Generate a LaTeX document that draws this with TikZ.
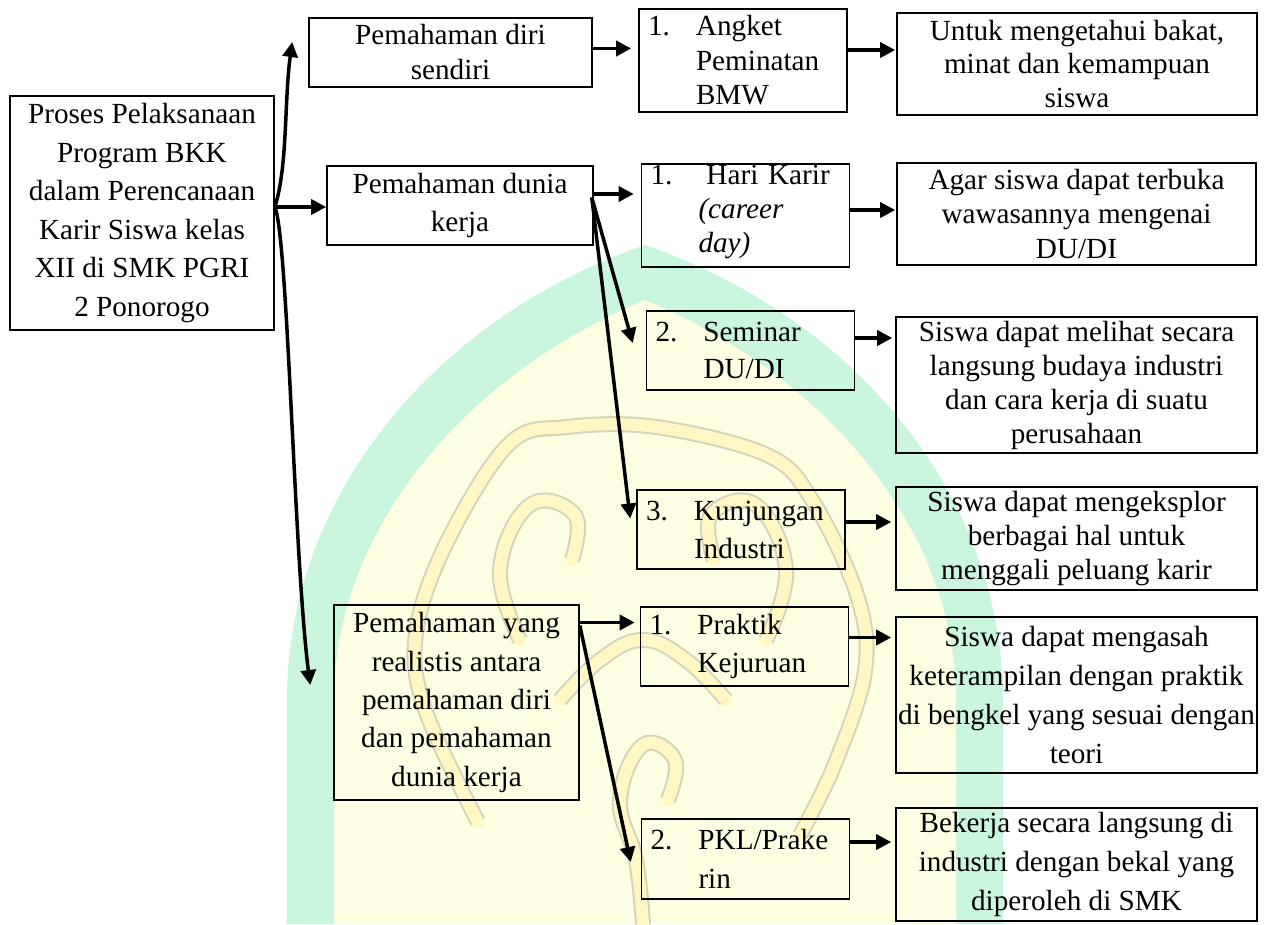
\documentclass[tikz,border=0pt]{standalone}
\usepackage{fontspec}
\setmainfont{Liberation Serif}
\usetikzlibrary{arrows.meta}
\definecolor{mint}{RGB}{202,246,222}
\definecolor{cream}{RGB}{254,254,226}
\definecolor{ornfill}{RGB}{255,247,196}
\definecolor{ornline}{RGB}{214,211,188}
\newcommand\fsz[1]{\fontsize{29.2}{#1}\selectfont}
\newcommand\itm[2]{\makebox[48pt][l]{#1}#2}
\newcommand\ind{\hspace*{48pt}}
\begin{document}
\begin{tikzpicture}[x=1pt,y=-1pt,
  box/.style={draw, line width=1.6pt, inner sep=0pt, align=center},
  lbox/.style={draw, line width=1.6pt, inner ysep=0pt, inner xsep=9pt, align=left, text width=190pt},
  arr/.style={line width=3.5pt, -{Triangle[length=15pt,width=15pt]}},
  orn/.style={preaction={draw=ornline, line width=16pt}, draw=ornfill, line width=12pt, line cap=round, line join=round},
]
\fill[white] (0,0) rectangle (1266,924);
\useasboundingbox (0,0) rectangle (1266,924);
% watermark
\fill[mint] (287,924) -- (287,700) .. controls (287,500) and (430,320) .. (645,245) .. controls (860,320) and (1003,500) .. (1003,700) -- (1003,924) -- cycle;
\fill[cream] (334,924) -- (334,700) .. controls (334,530) and (465,375) .. (645,300) .. controls (825,375) and (956,530) .. (956,700) -- (956,924) -- cycle;
\draw[orn] plot[smooth, tension=0.6] coordinates {(478,822) (425,709) (416,633) (447,542) (509,444) (567,427) (656,427) (767,455) (812,500) (857,595) (865,671) (834,766) (800,835)};
\draw[orn] plot[smooth, tension=0.7] coordinates {(520,640) (500,570) (530,505) (575,515) (572,560)};
\draw[orn] plot[smooth, tension=0.7] coordinates {(766,640) (786,570) (756,505) (711,515) (714,560)};
\draw[orn] plot[smooth, tension=0.7] coordinates {(643,924) (636,860) (620,800) (643,745) (675,760) (668,800)};
\draw[orn] plot[smooth, tension=0.7] coordinates {(560,700) (600,660) (643,640) (686,660) (726,700)};

% left column
\node[box, minimum width=264pt, minimum height=234pt, font=\fsz{38.6}] (root) at (142,213) {Proses Pelaksanaan\\Program BKK\\dalam Perencanaan\\Karir Siswa kelas\\XII di SMK PGRI\\2 Ponorogo};
\node[box, minimum width=283pt, minimum height=69pt, font=\fsz{35}] (diri) at (450.5,52.5) {Pemahaman diri\\sendiri};
\node[box, minimum width=266pt, minimum height=79pt, font=\fsz{38}] (dunia) at (460,205.5) {Pemahaman dunia\\kerja};
\node[box, minimum width=245pt, minimum height=195pt, font=\fsz{38.3}] (yang) at (456.5,702.5) {Pemahaman yang\\realistis antara\\pemahaman diri\\dan pemahaman\\dunia kerja};

% middle column
\node[lbox, minimum height=103pt, font=\fsz{34.5}] (angket) at (743,60.5) {\itm{1.}{Angket}\\\ind Peminatan\\\ind BMW};
\node[lbox, minimum height=103pt, font=\fsz{34}] (hari) at (745.5,215.5) {\itm{1.}{\hspace{8pt}Hari Karir}\\\ind\textit{(career}\\\ind\textit{day)}\rule[-14pt]{0pt}{1pt}};
\node[lbox, minimum height=79pt, font=\fsz{36.5}] (seminar) at (750.5,350.5) {\itm{2.}{Seminar}\\\ind DU/DI};
\node[lbox, minimum height=79pt, font=\fsz{38}] (kunj) at (741,529.5) {\itm{3.}{Kunjungan}\\\ind Industri};
\node[lbox, minimum height=79pt, font=\fsz{38.5}] (praktik) at (744.5,646.5) {\itm{1.}{Praktik}\\\ind Kejuruan};
\node[lbox, minimum height=80pt, font=\fsz{38.5}] (pkl) at (745.5,859) {\itm{2.}{PKL/Prake}\\\ind rin};

% right column
\node[box, minimum width=360pt, minimum height=102pt, font=\fsz{33.5}] (untuk) at (1077,64) {Untuk mengetahui bakat,\\minat dan kemampuan\\siswa};
\node[box, minimum width=359pt, minimum height=102pt, font=\fsz{34.5}] (agar) at (1076.5,214) {Agar siswa dapat terbuka\\wawasannya mengenai\\DU/DI};
\node[box, minimum width=361pt, minimum height=136pt, font=\fsz{34}] (melihat) at (1076.5,385) {Siswa dapat melihat secara\\langsung budaya industri\\dan cara kerja di suatu\\perusahaan};
\node[box, minimum width=361pt, minimum height=103pt, font=\fsz{34}] (eksplor) at (1076.5,538.5) {Siswa dapat mengeksplor\\berbagai hal untuk\\menggali peluang karir};
\node[box, minimum width=361pt, minimum height=156pt, font=\fsz{38.7}] (asah) at (1076.5,695) {Siswa dapat mengasah\\keterampilan dengan praktik\\di bengkel yang sesuai dengan\\teori};
\node[box, minimum width=361pt, minimum height=113pt, font=\fsz{38.7}] (bekerja) at (1076.5,864.5) {Bekerja secara langsung di\\industri dengan bekal yang\\diperoleh di SMK};

% connectors from root
\draw[arr] ([yshift=6pt]root.east) .. controls +(13,-40) and +(-8,58) .. ([xshift=-16pt,yshift=10.5pt]diri.west);
\draw[arr] ([yshift=6pt]root.east) -- ([yshift=-1.5pt]dunia.west);
\draw[arr] ([yshift=6pt]root.east) .. controls +(13,28) and +(-16,-125) .. ([xshift=-23pt,yshift=17.5pt]yang.west);

% second level
\draw[arr] ([yshift=4pt]diri.east) -- ([xshift=-7pt,yshift=12pt]angket.west);
\draw[arr] ([yshift=11.5pt]dunia.east) -- ([xshift=-7pt,yshift=21.5pt]hari.west);
\draw[arr] ([xshift=-2pt,yshift=8pt]dunia.east) -- ([xshift=-13pt,yshift=7.5pt]seminar.west);
\draw[arr] ([xshift=-2pt,yshift=8pt]dunia.east) -- ([xshift=-6pt,yshift=11pt]kunj.west);
\draw[arr] ([yshift=80pt]yang.east) -- ([xshift=-5pt,yshift=24pt]praktik.west);
\draw[arr] ([yshift=77pt]yang.east) -- ([xshift=-10pt,yshift=-3pt]pkl.west);

% third level
\draw[arr] ([yshift=10.5pt]angket.east) -- ([xshift=-1pt,yshift=14pt]untuk.west);
\draw[arr] ([yshift=5.5pt]hari.east) -- ([xshift=-1pt,yshift=4pt]agar.west);
\draw[arr] ([yshift=12.5pt]seminar.east) -- ([xshift=-3pt,yshift=47pt]melihat.west);
\draw[arr] ([yshift=7.5pt]kunj.east) -- ([xshift=-4pt,yshift=16.5pt]eksplor.west);
\draw[arr] ([yshift=9pt]praktik.east) -- ([xshift=-4pt,yshift=57.5pt]asah.west);
\draw[arr] ([yshift=17pt]pkl.east) -- ([xshift=-4pt,yshift=22.5pt]bekerja.west);
\end{tikzpicture}
\end{document}
